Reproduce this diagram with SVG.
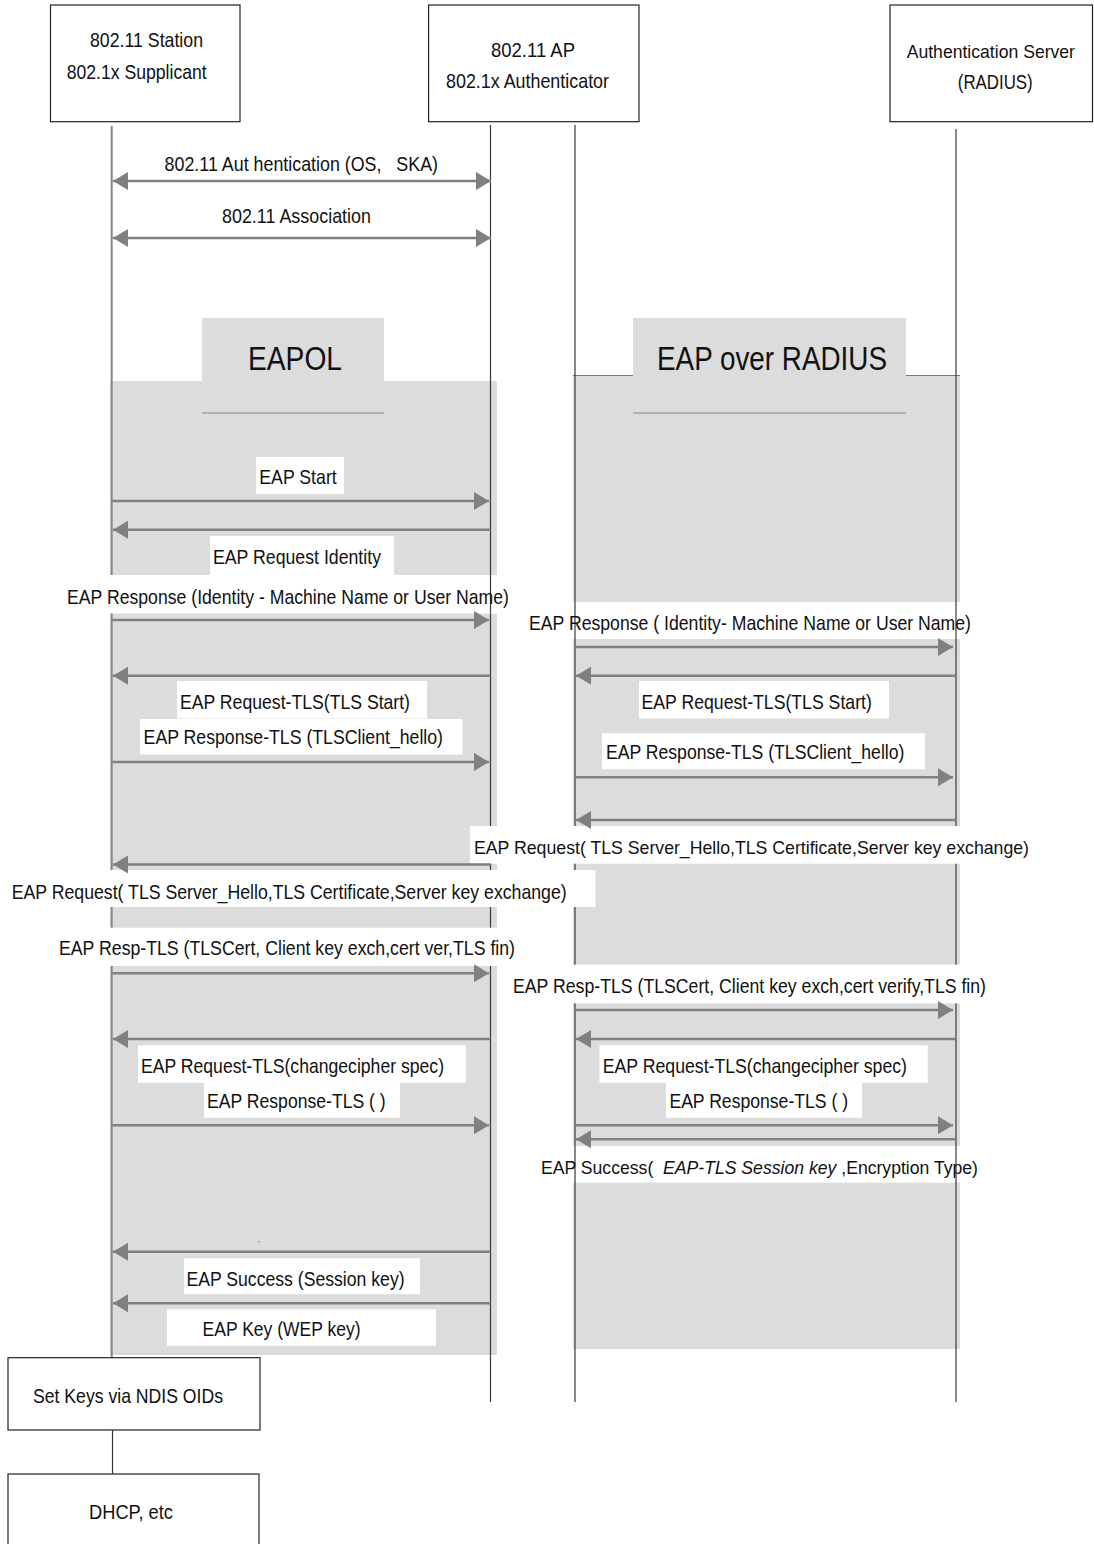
<svg xmlns="http://www.w3.org/2000/svg" width="1094" height="1544" viewBox="0 0 1094 1544">
<style>
text{font-family:"Liberation Sans",Arial,sans-serif;font-size:21px;fill:#111;white-space:pre}
.hdr{font-size:34px}
.it{font-style:italic}
.sm{font-size:19px}
.box{fill:#fff;stroke:#222;stroke-width:1.2}
.grey{fill:#dcdcdc}
.wb{fill:#fff}
.arr{stroke:#808080;stroke-width:2.5;fill:none}
.life{stroke:#3a3a3a;stroke-width:1.2}
.lifeS{stroke:#888;stroke-width:2}
.tabline{stroke:#8a8a8a;stroke-width:1.2}
</style>
<defs>
<marker id="ah" viewBox="0 0 15 18" refX="15" refY="9" markerWidth="15" markerHeight="18" markerUnits="userSpaceOnUse" orient="auto-start-reverse">
<path d="M0,0 L15,9 L0,18 z" fill="#808080"/>
</marker>
</defs>
<rect width="1094" height="1544" fill="#fff"/>

<g id="regions">
<rect class="grey" x="110" y="381" width="387" height="973"/>
<rect class="grey" x="202" y="318" width="182" height="64"/>
<rect class="grey" x="573" y="375" width="387" height="974"/>
<rect class="grey" x="633" y="318" width="273" height="58"/>
<line x1="573" y1="375.5" x2="633" y2="375.5" stroke="#777" stroke-width="1.2"/>
<line x1="906" y1="375.5" x2="960" y2="375.5" stroke="#777" stroke-width="1.2"/>
<line class="tabline" x1="202" y1="413" x2="384" y2="413"/>
<line class="tabline" x1="633" y1="413" x2="906" y2="413"/>
<line x1="110" y1="1354" x2="497" y2="1354" stroke="#c8c8c8" stroke-width="1"/>
<rect x="258.5" y="1241" width="1.5" height="1.5" fill="#999"/>
</g>

<g id="lifelines">
<line class="lifeS" x1="111.7" y1="126" x2="111.7" y2="1358"/>
<line class="life" x1="490.5" y1="125" x2="490.5" y2="1402"/>
<line class="life" x1="575" y1="125" x2="575" y2="1402"/>
<line class="life" x1="956" y1="129" x2="956" y2="1402"/>
</g>

<g id="label-bg">
<rect class="wb" x="256" y="457" width="88" height="37"/>
<rect class="wb" x="210" y="536" width="184" height="39"/>
<rect class="wb" x="60" y="575" width="455" height="38.5"/>
<rect class="wb" x="177" y="681" width="250" height="37.5"/>
<rect class="wb" x="140" y="719" width="322.5" height="35.5"/>
<rect class="wb" x="5" y="870" width="590.5" height="37"/>
<rect class="wb" x="55" y="927.7" width="464" height="38.3"/>
<rect class="wb" x="138" y="1045.3" width="328" height="37.5"/>
<rect class="wb" x="204" y="1082.7" width="196" height="35"/>
<rect class="wb" x="184" y="1258.3" width="236" height="36"/>
<rect class="wb" x="167" y="1309.3" width="269" height="36.4"/>

<rect class="wb" x="525" y="602" width="450" height="37"/>
<rect class="wb" x="639" y="681" width="250" height="37.5"/>
<rect class="wb" x="602" y="733.3" width="323" height="36"/>
<rect class="wb" x="470" y="826" width="600" height="37.7"/>
<rect class="wb" x="509" y="964.7" width="481" height="38.6"/>
<rect class="wb" x="599.5" y="1045.3" width="328.2" height="37.5"/>
<rect class="wb" x="666" y="1082.7" width="196" height="35"/>
<rect class="wb" x="537" y="1146" width="445" height="36.7"/>
</g>

<g id="lifeline-overlaps">
<line class="life" x1="490.5" y1="575" x2="490.5" y2="613.5"/>
<line class="life" x1="575" y1="602" x2="575" y2="639"/>
<line class="life" x1="956" y1="602" x2="956" y2="639"/>
<line class="life" x1="575" y1="1146" x2="575" y2="1183"/>
<line class="life" x1="956" y1="1146" x2="956" y2="1183"/>
</g>

<g id="node-station">
<rect class="box" x="50.5" y="5" width="189.5" height="116.7"/>
<text x="90" y="46.5" textLength="113" lengthAdjust="spacingAndGlyphs">802.11 Station</text>
<text x="66.7" y="79" textLength="140" lengthAdjust="spacingAndGlyphs">802.1x Supplicant</text>
</g>
<g id="node-ap">
<rect class="box" x="428.6" y="5" width="210.4" height="116.7"/>
<text x="491" y="56.5" textLength="84" lengthAdjust="spacingAndGlyphs">802.11 AP</text>
<text x="446" y="87.5" textLength="163" lengthAdjust="spacingAndGlyphs">802.1x Authenticator</text>
</g>
<g id="node-auth">
<rect class="box" x="890" y="5" width="202.5" height="116.7"/>
<text x="906.7" y="57.5" textLength="168.3" lengthAdjust="spacingAndGlyphs" class="sm">Authentication Server</text>
<text x="957.8" y="89" textLength="74.9" lengthAdjust="spacingAndGlyphs">(RADIUS)</text>
</g>
<g id="node-eapol">
<text class="hdr" x="248" y="370" textLength="94" lengthAdjust="spacingAndGlyphs">EAPOL</text>
</g>
<g id="node-eapradius">
<text class="hdr" x="657" y="370" textLength="230" lengthAdjust="spacingAndGlyphs">EAP over RADIUS</text>
</g>
<g id="node-setkeys">
<rect class="box" x="8" y="1357.7" width="252" height="72.3"/>
<text x="33" y="1402.5" textLength="190" lengthAdjust="spacingAndGlyphs">Set Keys via NDIS OIDs</text>
</g>
<g id="node-dhcp">
<rect class="box" x="8" y="1474" width="251" height="80"/>
<text x="89" y="1519" textLength="84" lengthAdjust="spacingAndGlyphs">DHCP, etc</text>
</g>

<g id="labels">
<text x="164.6" y="170.5" textLength="273.4" lengthAdjust="spacingAndGlyphs">802.11 Aut hentication (OS,   SKA)</text>
<text x="222" y="222.5" textLength="149" lengthAdjust="spacingAndGlyphs">802.11 Association</text>
<text x="259.3" y="483.5" textLength="77.4" lengthAdjust="spacingAndGlyphs">EAP Start</text>
<text x="213" y="563.5" textLength="168" lengthAdjust="spacingAndGlyphs">EAP Request Identity</text>
<text x="67" y="603.5" textLength="442" lengthAdjust="spacingAndGlyphs">EAP Response (Identity - Machine Name or User Name)</text>
<text x="529" y="630" textLength="442" lengthAdjust="spacingAndGlyphs">EAP Response ( Identity- Machine Name or User Name)</text>
<text x="180" y="709" textLength="230" lengthAdjust="spacingAndGlyphs">EAP Request-TLS(TLS Start)</text>
<text x="641.5" y="709" textLength="230.3" lengthAdjust="spacingAndGlyphs">EAP Request-TLS(TLS Start)</text>
<text x="143.6" y="744" textLength="299.4" lengthAdjust="spacingAndGlyphs">EAP Response-TLS (TLSClient_hello)</text>
<text x="605.9" y="759" textLength="298.5" lengthAdjust="spacingAndGlyphs">EAP Response-TLS (TLSClient_hello)</text>
<text class="sm" x="474" y="853.5" textLength="555" lengthAdjust="spacingAndGlyphs">EAP Request( TLS Server_Hello,TLS Certificate,Server key exchange)</text>
<text x="11.7" y="899" textLength="555" lengthAdjust="spacingAndGlyphs">EAP Request( TLS Server_Hello,TLS Certificate,Server key exchange)</text>
<text x="59" y="955" textLength="456" lengthAdjust="spacingAndGlyphs">EAP Resp-TLS (TLSCert, Client key exch,cert ver,TLS fin)</text>
<text x="513" y="992.5" textLength="473" lengthAdjust="spacingAndGlyphs">EAP Resp-TLS (TLSCert, Client key exch,cert verify,TLS fin)</text>
<text x="141" y="1072.5" textLength="303" lengthAdjust="spacingAndGlyphs">EAP Request-TLS(changecipher spec)</text>
<text x="602.8" y="1072.5" textLength="304.2" lengthAdjust="spacingAndGlyphs">EAP Request-TLS(changecipher spec)</text>
<text x="207" y="1108" textLength="178.7" lengthAdjust="spacingAndGlyphs">EAP Response-TLS ( )</text>
<text x="669.4" y="1108" textLength="178.6" lengthAdjust="spacingAndGlyphs">EAP Response-TLS ( )</text>
<text class="sm" x="541" y="1173.5" textLength="437" lengthAdjust="spacingAndGlyphs">EAP Success(  <tspan class="it">EAP-TLS Session key</tspan> ,Encryption Type)</text>
<text x="186.4" y="1285.8" textLength="218.2" lengthAdjust="spacingAndGlyphs">EAP Success (Session key)</text>
<text x="202.5" y="1335.8" textLength="158.2" lengthAdjust="spacingAndGlyphs">EAP Key (WEP key)</text>
</g>

<g id="connectors">
<line class="arr" x1="113" y1="181" x2="491" y2="181" marker-start="url(#ah)" marker-end="url(#ah)"/>
<line class="arr" x1="113" y1="238" x2="491" y2="238" marker-start="url(#ah)" marker-end="url(#ah)"/>
<line class="arr" x1="111.7" y1="501" x2="489" y2="501" marker-end="url(#ah)"/>
<line class="arr" x1="490.5" y1="529.7" x2="113" y2="529.7" marker-end="url(#ah)"/>
<line class="arr" x1="111.7" y1="620" x2="489" y2="620" marker-end="url(#ah)"/>
<line class="arr" x1="490.5" y1="675.7" x2="113" y2="675.7" marker-end="url(#ah)"/>
<line class="arr" x1="111.7" y1="762" x2="489" y2="762" marker-end="url(#ah)"/>
<line class="arr" x1="490.5" y1="864.5" x2="113" y2="864.5" marker-end="url(#ah)"/>
<line class="arr" x1="111.7" y1="973.3" x2="489" y2="973.3" marker-end="url(#ah)"/>
<line class="arr" x1="490.5" y1="1039" x2="113" y2="1039" marker-end="url(#ah)"/>
<line class="arr" x1="111.7" y1="1125.3" x2="489" y2="1125.3" marker-end="url(#ah)"/>
<line class="arr" x1="490.5" y1="1251.7" x2="113" y2="1251.7" marker-end="url(#ah)"/>
<line class="arr" x1="490.5" y1="1303.3" x2="113" y2="1303.3" marker-end="url(#ah)"/>
<line class="arr" x1="575" y1="647" x2="953" y2="647" marker-end="url(#ah)"/>
<line class="arr" x1="956" y1="675.7" x2="576" y2="675.7" marker-end="url(#ah)"/>
<line class="arr" x1="575" y1="777.3" x2="953" y2="777.3" marker-end="url(#ah)"/>
<line class="arr" x1="956" y1="820" x2="576" y2="820" marker-end="url(#ah)"/>
<line class="arr" x1="575" y1="1010" x2="953" y2="1010" marker-end="url(#ah)"/>
<line class="arr" x1="956" y1="1039" x2="576" y2="1039" marker-end="url(#ah)"/>
<line class="arr" x1="575" y1="1125.3" x2="953" y2="1125.3" marker-end="url(#ah)"/>
<line class="arr" x1="956" y1="1139.3" x2="576" y2="1139.3" marker-end="url(#ah)"/>
<line stroke="#333" stroke-width="1.2" x1="112.5" y1="1430" x2="112.5" y2="1474"/>
</g>
</svg>
